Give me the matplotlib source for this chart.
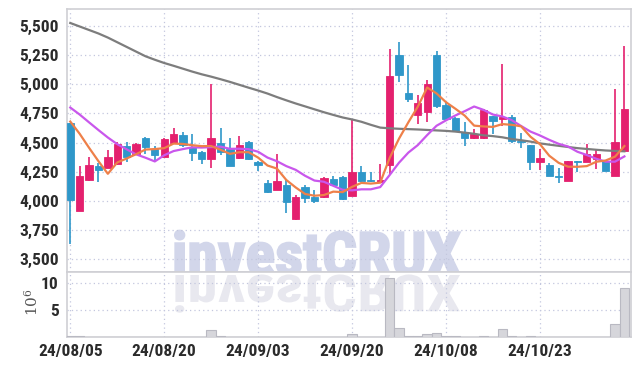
"""
Daily candlestick chart, investCRUX style: price panel with 5/10/60-day
moving averages on top, volume (in millions) underneath.

Output:
    out.png  (639 x 366 px)
"""

from __future__ import annotations

import matplotlib

matplotlib.use("Agg")

import matplotlib.pyplot as plt
import numpy as np
from matplotlib import font_manager
from matplotlib.font_manager import FontProperties
from matplotlib.patches import PathPatch
from matplotlib.textpath import TextPath
from matplotlib.transforms import Affine2D

# ---------------------------------------------------------------------------
# Data
# ---------------------------------------------------------------------------
DATES = [
    "24/08/05", "24/08/06", "24/08/07", "24/08/08", "24/08/09", "24/08/12", "24/08/13", "24/08/14", "24/08/16", "24/08/19",
    "24/08/20", "24/08/21", "24/08/22", "24/08/23", "24/08/26", "24/08/27", "24/08/28", "24/08/29", "24/08/30", "24/09/02",
    "24/09/03", "24/09/04", "24/09/05", "24/09/06", "24/09/09", "24/09/10", "24/09/11", "24/09/12", "24/09/13", "24/09/19",
    "24/09/20", "24/09/23", "24/09/24", "24/09/25", "24/09/26", "24/09/27", "24/09/30", "24/10/02", "24/10/04", "24/10/07",
    "24/10/08", "24/10/10", "24/10/11", "24/10/14", "24/10/15", "24/10/16", "24/10/17", "24/10/18", "24/10/21", "24/10/22",
    "24/10/23", "24/10/24", "24/10/25", "24/10/28", "24/10/29", "24/10/30", "24/10/31", "24/11/01", "24/11/04", "24/11/05",
]
OPEN = [
    4665, 3915, 4175, 4300, 4285, 4320, 4470, 4400, 4540, 4445,
    4380, 4495, 4565, 4465, 4420, 4355, 4495, 4445, 4365, 4505,
    4335, 4150, 4095, 4140, 3845, 4115, 4030, 4030, 4185, 4205,
    4045, 4245, 4180, 4160, 4305, 5250, 4925, 4740, 4760, 5250,
    4825, 4710, 4590, 4535, 4535, 4725, 4700, 4715, 4515, 4475,
    4335, 4310, 4215, 4172, 4340, 4335, 4360, 4345, 4215, 4425,
]
HIGH = [
    4665, 4300, 4380, 4325, 4440, 4505, 4505, 4495, 4545, 4470,
    4535, 4625, 4590, 4575, 4430, 5000, 4625, 4540, 4555, 4510,
    4340, 4175, 4400, 4175, 4050, 4135, 4095, 4205, 4215, 4210,
    4690, 4295, 4250, 4315, 5300, 5365, 5165, 4910, 5040, 5285,
    4835, 4715, 4675, 4615, 4785, 4730, 5170, 4740, 4585, 4480,
    4445, 4325, 4285, 4345, 4342, 4490, 4435, 4350, 4955, 5330,
]
LOW = [
    3630, 3910, 4170, 4160, 4280, 4310, 4335, 4395, 4405, 4340,
    4375, 4490, 4465, 4340, 4315, 4280, 4390, 4295, 4355, 4350,
    4260, 4065, 4090, 3895, 3840, 3985, 3985, 4025, 4130, 4010,
    4040, 4165, 4165, 4155, 4230, 5020, 4850, 4660, 4675, 4795,
    4700, 4590, 4470, 4530, 4530, 4570, 4645, 4500, 4455, 4265,
    4265, 4210, 4150, 4170, 4245, 4330, 4275, 4255, 4210, 4420,
]
CLOSE = [
    4005, 4210, 4305, 4265, 4375, 4490, 4380, 4490, 4465, 4395,
    4530, 4575, 4475, 4410, 4355, 4535, 4415, 4300, 4480, 4355,
    4305, 4075, 4170, 3990, 4035, 4025, 4000, 4200, 4135, 4015,
    4250, 4170, 4170, 4175, 5070, 5080, 4875, 4835, 5000, 4815,
    4705, 4595, 4540, 4570, 4780, 4685, 4715, 4510, 4505, 4335,
    4370, 4215, 4205, 4340, 4332, 4400, 4400, 4260, 4505, 4785,
]
MA5 = [
    4680, 4575, 4455, 4340, 4232, 4329, 4363, 4400, 4440, 4444,
    4452, 4491, 4488, 4477, 4469, 4470, 4438, 4403, 4417, 4417,
    4371, 4303, 4277, 4179, 4115, 4059, 4044, 4050, 4079, 4075,
    4120, 4154, 4148, 4156, 4367, 4533, 4674, 4807, 4972, 4921,
    4846, 4790, 4731, 4645, 4638, 4634, 4658, 4652, 4639, 4550,
    4487, 4387, 4326, 4293, 4292, 4298, 4335, 4346, 4379, 4470,
]
MA10 = [
    4800, 4740, 4673, 4607, 4543, 4486, 4442, 4399, 4370, 4338,
    4391, 4427, 4444, 4459, 4457, 4461, 4465, 4446, 4447, 4443,
    4421, 4371, 4340, 4298, 4266, 4215, 4174, 4164, 4129, 4095,
    4090, 4099, 4099, 4118, 4221, 4327, 4414, 4478, 4564, 4644,
    4690, 4732, 4769, 4809, 4780, 4740, 4724, 4692, 4642, 4594,
    4561, 4523, 4489, 4466, 4421, 4393, 4361, 4336, 4336, 4381,
]
MA60 = [
    5525, 5495, 5465, 5435, 5400, 5360, 5320, 5280, 5240, 5210,
    5182, 5158, 5133, 5108, 5085, 5065, 5043, 5020, 4995, 4970,
    4946, 4920, 4890, 4862, 4835, 4810, 4785, 4760, 4737, 4715,
    4698, 4678, 4652, 4628, 4622, 4618, 4615, 4612, 4608, 4604,
    4600, 4594, 4585, 4575, 4562, 4555, 4545, 4530, 4520, 4508,
    4493, 4482, 4472, 4462, 4452, 4445, 4438, 4432, 4428, 4425,
]
VOLUME_M = [
    0.12, 0.10, 0.03, 0.03, 0.03, 0.03, 0.03, 0.03, 0.03, 0.03,
    0.03, 0.03, 0.03, 0.03, 0.03, 1.30, 0.12, 0.03, 0.03, 0.03,
    0.03, 0.03, 0.03, 0.03, 0.03, 0.03, 0.03, 0.03, 0.03, 0.03,
    0.65, 0.03, 0.03, 0.03, 11.0, 1.60, 0.20, 0.20, 0.65, 0.80,
    0.10, 0.10, 0.05, 0.03, 0.12, 0.03, 1.40, 0.10, 0.03, 0.12,
    0.03, 0.03, 0.03, 0.03, 0.03, 0.03, 0.03, 0.03, 2.50, 9.10,
]
PRICE_TICKS = [3500, 3750, 4000, 4250, 4500, 4750, 5000, 5250, 5500]
VOLUME_TICKS = [5, 10]
DATE_TICK_EVERY = 10

UP = "#e4206e"
DOWN = "#2f97c9"
GRID = "#c3c7de"
FRAME = "#cfcfd4"


def _pick_font(candidates: list[str]) -> str:
    """First installed family from the list (narrow faces preferred)."""
    have = {f.name for f in font_manager.fontManager.ttflist}
    for name in candidates:
        if name in have:
            return name
    return "DejaVu Sans"


TICK_FAMILY = _pick_font(["Roboto Condensed", "Liberation Sans Narrow", "Open Sans Condensed", "Roboto"])


def _style_axis(ax) -> None:
    for sp in ax.spines.values():
        sp.set_color(FRAME)
        sp.set_linewidth(1.2)
    ax.tick_params(length=0, pad=6, colors="#2b2b2b", labelsize=12.5)
    for lab in ax.get_xticklabels() + ax.get_yticklabels():
        lab.set_family(TICK_FAMILY)
        lab.set_weight("bold")
    ax.grid(True, color=GRID, linestyle=(0, (1, 2.5)), linewidth=0.9)
    ax.set_axisbelow(True)


def _watermark(fig, ax_price, ax_vol) -> None:
    prop = FontProperties(family=TICK_FAMILY, weight="bold")
    path = TextPath((0, 0), "investCRUX", size=60, prop=prop)
    bb = path.get_extents()
    # squeeze to the reference width (x 175..460 px)
    sx = 285 / bb.width
    x0 = 175 - bb.x0 * sx
    base = fig.bbox.height - 275
    ax_price.add_patch(PathPatch(path, transform=Affine2D().scale(sx, 1).translate(x0, base),
                                 fc="#d2d6ea", ec="#d2d6ea", linewidth=1.5, zorder=0))
    ax_vol.add_patch(PathPatch(path, transform=Affine2D().scale(sx, -0.85).translate(x0, base),
                               fc="#e8e8ef", ec="none", zorder=0))


def main() -> None:
    plt.rcParams["mathtext.fontset"] = "dejavuserif"
    fig = plt.figure(figsize=(6.39, 3.66), dpi=100)
    ax = fig.add_axes([67 / 639, 1 - 272 / 366, 563.5 / 639, 263 / 366])
    axv = fig.add_axes([67 / 639, 1 - 337 / 366, 563.5 / 639, 65 / 366], sharex=ax)

    x = np.arange(len(CLOSE))
    o, h, l, c = (np.array(a, dtype=float) for a in (OPEN, HIGH, LOW, CLOSE))
    up = c >= o
    colours = np.where(up, UP, DOWN)

    _watermark(fig, ax, axv)

    # candles: wick first, body on top
    ax.vlines(x, l, h, colors=colours, linewidth=1.2, zorder=3)
    body_lo = np.minimum(o, c)
    body_h = np.maximum(np.abs(c - o), 12)
    ax.bar(x, body_h, bottom=body_lo, width=0.78, color=colours,
           edgecolor=colours, linewidth=0.6, zorder=4)

    ax.plot(x, MA60, color="#7d7d7d", linewidth=1.6, zorder=5)
    ax.plot(x, MA10, color="#c957ec", linewidth=1.6, zorder=5)
    ax.plot(x, MA5, color="#ee8049", linewidth=1.6, zorder=6)

    axv.bar(x, VOLUME_M, width=1.0, color="#d6d6db", edgecolor="#b9b9c2",
            linewidth=0.8, zorder=3)

    ax.set_yticks(PRICE_TICKS, labels=[f"{v:,}" for v in PRICE_TICKS])
    ax.set_ylim(3390, 5645)
    ax.set_xlim(-0.35, len(CLOSE) - 0.35)
    tick_idx = x[::DATE_TICK_EVERY]
    axv.set_xticks(tick_idx, labels=[DATES[i] for i in tick_idx])
    ax.tick_params(axis="x", labelbottom=False)
    axv.set_yticks(VOLUME_TICKS, labels=[str(v) for v in VOLUME_TICKS])
    axv.set_ylim(0, 12.1)

    _style_axis(ax)
    _style_axis(axv)
    axv.tick_params(axis="x", pad=5)

    fig.text(32 / 639, 1 - 302 / 366, r"$10^6$", rotation=90, ha="center",
             va="center", fontsize=11, color="#555555")

    fig.savefig("out.png", dpi=100)
    plt.close(fig)


if __name__ == "__main__":
    main()
